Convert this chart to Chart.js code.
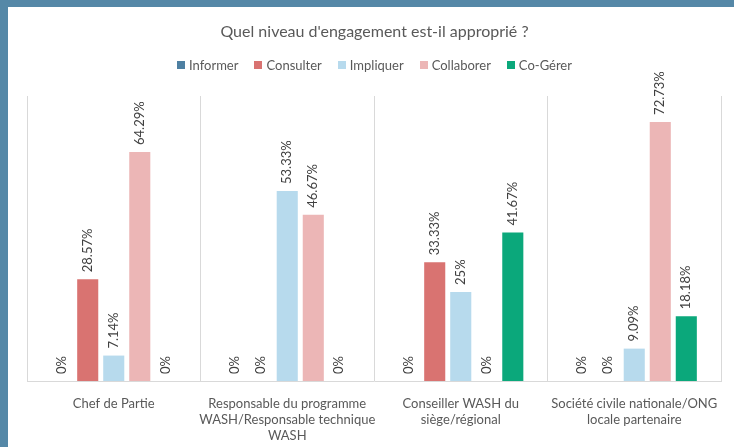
<!DOCTYPE html>
<html>
<head>
<meta charset="utf-8">
<script src="https://cdn.jsdelivr.net/npm/chart.js@4/dist/chart.umd.min.js"></script>
<style>
  html, body { margin: 0; padding: 0; background: #ffffff; }
  #frame { position: absolute; left: 0; top: 0; width: 734px; height: 447px; box-sizing: border-box;
           border-top: 7px solid #5588A7; border-left: 8px solid #5588A7; background: #ffffff; }
  canvas { display: block; }
</style>
</head>
<body>
<div id="frame"><canvas id="c" width="726" height="440"></canvas></div>
<script>
const chartTitle = "Quel niveau d'engagement est-il approprié ?";
const categories = [
  "Chef de Partie",
  ["Responsable du programme", "WASH/Responsable technique", "WASH"],
  ["Conseiller WASH du", "siège/régional"],
  ["Société civile nationale/ONG", "locale partenaire"]
];
const seriesNames = ["Informer", "Consulter", "Impliquer", "Collaborer", "Co-Gérer"];
const informer   = [0, 0, 0, 0];
const consulter  = [28.57, 0, 33.33, 0];
const impliquer  = [7.14, 53.33, 25, 9.09];
const collaborer = [64.29, 46.67, 0, 72.73];
const coGerer    = [0, 0, 41.67, 18.18];
const seriesColors = ["#4E80A2", "#D97371", "#B7DAED", "#ECB6B6", "#0BA87B"];
const yMax = 80;

const FONT = "Lato, 'Liberation Sans', sans-serif";

const seriesValues = [informer, consulter, impliquer, collaborer, coGerer];
const datasets = seriesNames.map((name, i) => ({
  label: name,
  data: seriesValues[i],
  backgroundColor: seriesColors[i],
  borderWidth: 0,
  categoryPercentage: 0.75,
  barPercentage: 0.81
}));

const labelPlugin = {
  id: 'valueLabels',
  afterDatasetsDraw(chart) {
    const ctx = chart.ctx;
    ctx.save();
    ctx.font = "13px " + FONT;
    ctx.fillStyle = "#404040";
    ctx.textAlign = "left";
    ctx.textBaseline = "middle";
    chart.data.datasets.forEach((ds, di) => {
      const meta = chart.getDatasetMeta(di);
      meta.data.forEach((el, i) => {
        const txt = ds.data[i] + "%";
        ctx.save();
        ctx.translate(el.x, el.y - 7);
        ctx.rotate(-Math.PI / 2);
        ctx.fillText(txt, 0, 0);
        ctx.restore();
      });
    });
    ctx.restore();
  }
};

const headerPlugin = {
  id: 'header',
  afterDraw(chart) {
    const ctx = chart.ctx;
    const cx = 366.5;
    ctx.save();
    ctx.font = "16px " + FONT;
    ctx.fillStyle = "#595959";
    ctx.textAlign = "center";
    ctx.textBaseline = "middle";
    ctx.fillText(chartTitle, cx, 25);
    // legend
    ctx.font = "13px " + FONT;
    const box = 8, gapBox = 4, spacing = 16;
    const widths = chart.data.datasets.map(d => box + gapBox + ctx.measureText(d.label).width);
    const total = widths.reduce((a, b) => a + b, 0) + spacing * (widths.length - 1);
    let x = cx - total / 2;
    const y = 58;
    ctx.textAlign = "left";
    chart.data.datasets.forEach((d, i) => {
      ctx.fillStyle = d.backgroundColor;
      ctx.fillRect(Math.round(x), y - 4, box, box);
      ctx.fillStyle = "#595959";
      ctx.fillText(d.label, x + box + gapBox, y + 0.5);
      x += widths[i] + spacing;
    });
    ctx.restore();
  }
};

new Chart(document.getElementById('c'), {
  type: 'bar',
  data: { labels: categories, datasets: datasets },
  options: {
    responsive: false,
    animation: false,
    layout: { padding: { top: 89, left: 19, right: 13, bottom: 0 } },
    plugins: {
      legend: { display: false },
      title: { display: false },
      tooltip: { enabled: false }
    },
    scales: {
      x: {
        grid: { display: true, offset: true, color: "#D9D9D9", lineWidth: 1, drawTicks: false },
        border: { display: true, color: "#D9D9D9", width: 1 },
        ticks: { color: "#595959", font: { family: FONT, size: 13, lineHeight: 1.23 }, padding: 15, maxRotation: 0, autoSkip: false },
        afterFit(axis) { axis.height = 66; }
      },
      y: {
        display: false,
        min: 0,
        max: yMax
      }
    }
  },
  plugins: [labelPlugin, headerPlugin]
});
</script>
</body>
</html>
